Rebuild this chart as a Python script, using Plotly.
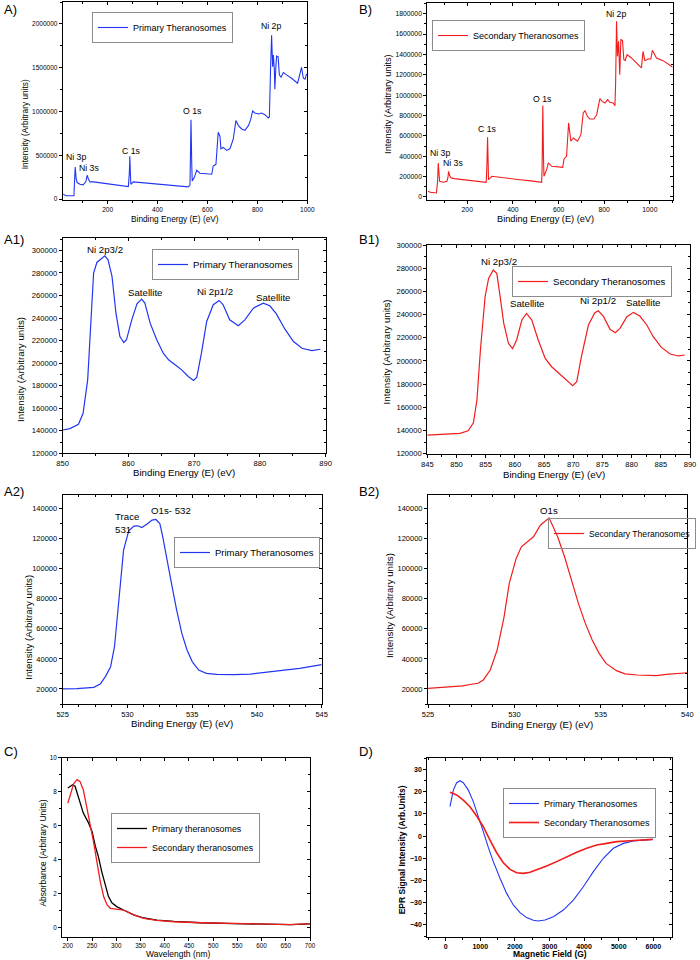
import plotly.graph_objects as go

# ---------------- data ----------------
# A) survey, primary
A_energy = [22, 33, 65, 70, 74, 78, 89, 102, 113, 118, 123, 129, 143, 180, 230, 270, 283, 287, 289, 291,
            293, 303, 350, 420, 480, 523, 530, 534, 537, 539, 547, 557, 570, 617, 623, 634, 643, 650, 654, 663,
            677, 690, 703, 714, 724, 737, 750, 764, 773, 781, 790, 804, 817, 830, 844, 848, 853, 857, 861, 864,
            868, 870, 874, 877, 883, 888, 895, 904, 917, 937, 961, 971, 977, 984, 991, 997]
A_intensity = [57000, 38000, 38000, 367000, 230000, 189000, 170000, 163000, 200000, 272000,
               230000, 197000, 197000, 185000, 165000, 150000, 144000, 300000, 488000, 300000,
               170000, 197000, 185000, 168000, 155000, 140000, 160000, 907000, 400000, 208000,
               246000, 329000, 295000, 284000, 378000, 397000, 764000, 718000, 575000, 590000,
               556000, 575000, 681000, 896000, 839000, 801000, 786000, 839000, 907000, 1006000,
               983000, 972000, 983000, 964000, 926000, 938000, 1512000, 1871000, 1512000, 1645000,
               1475000, 1255000, 1512000, 1633000, 1626000, 1418000, 1391000, 1444000, 1418000, 1380000,
               1323000, 1418000, 1505000, 1380000, 1369000, 1429000]
A_peak_labels = ["Ni 3p", "Ni 3s", "C 1s", "O 1s", "Ni 2p"]
A_peak_x = [75, 125, 297, 541, 853]
A_peak_y = [484000, 352000, 548000, 1002000, 1974000]

# B) survey, secondary
B_energy = [28, 38, 65, 70, 73, 76, 79, 97, 111, 116, 118, 123, 129, 143, 180, 230, 270, 283, 286, 289,
            292, 293, 308, 350, 420, 480, 526, 528, 531, 534, 536, 548, 555, 570, 618, 624, 635, 644, 650, 654,
            665, 683, 698, 708, 716, 726, 737, 755, 767, 774, 781, 791, 803, 815, 825, 839, 847, 850, 854, 858,
            863, 868, 873, 880, 886, 892, 900, 919, 941, 963, 970, 978, 992, 1004, 1011, 1021, 1029, 1058, 1099]
B_intensity = [56000, 46000, 39000, 150000, 334000, 220000, 154000, 144000, 154000, 200000,
               252000, 210000, 187000, 180000, 172000, 160000, 150000, 144000, 300000, 586000,
               300000, 170000, 203000, 190000, 172000, 158000, 144000, 300000, 897000, 400000,
               203000, 268000, 334000, 301000, 291000, 373000, 399000, 727000, 645000, 547000,
               579000, 547000, 612000, 825000, 848000, 792000, 766000, 766000, 808000, 890000,
               966000, 939000, 923000, 956000, 929000, 923000, 897000, 1119000, 1725000, 1381000,
               1528000, 1201000, 1545000, 1538000, 1348000, 1339000, 1398000, 1365000, 1316000, 1267000,
               1430000, 1339000, 1355000, 1355000, 1440000, 1398000, 1365000, 1339000, 1277000]
B_peak_labels = ["Ni 3p", "Ni 3s", "C 1s", "O 1s", "Ni 2p"]
B_peak_x = [79, 137, 289, 531, 852]
B_peak_y = [432000, 334000, 668000, 962000, 1800000]

# A1) Ni 2p, primary
A1_energy = [850, 851.1, 852.4, 853.1, 853.8, 854.3, 854.7, 855.2, 855.9, 856.4, 856.9, 857.5, 858.1, 858.7,
             859.3, 859.7, 860.5, 861.3, 862.0, 862.5, 863.3, 864.3, 865.3, 866.1, 867.1, 868.1, 869.1, 869.9,
             870.4, 871.1, 871.9, 872.9, 873.8, 874.4, 875.4, 876.7, 877.7, 879.0, 880.5, 881.5, 882.5, 883.8,
             885.1, 886.4, 887.9, 889.2]
A1_intensity = [140700, 141900, 145800, 155500, 185100, 241400, 279900, 289300, 293200, 295200, 291700,
                276900, 244300, 223600, 218300, 220700, 238400, 252600, 256800, 253200, 235500, 220700,
                208800, 202900, 198500, 194000, 188100, 184600, 187500, 208800, 237000, 251800, 255600,
                251800, 238400, 233100, 238400, 248800, 253200, 250900, 243700, 230100, 219100, 213200,
                211100, 212300]
A1_peak_labels = ["Ni 2p3/2", "Satellite", "Ni 2p1/2", "Satellite"]
A1_peak_x = [856.5, 862.5, 873.1, 882.0]
A1_peak_y = [301000, 262700, 263600, 258500]

# B1) Ni 2p, secondary
B1_energy = [845, 847.7, 850.6, 852.0, 852.9, 853.5, 854.1, 854.9, 855.5, 856.3, 856.9, 857.4, 858.1, 858.9,
             859.6, 860.3, 861.2, 862.0, 862.9, 864.0, 865.2, 866.3, 867.4, 868.9, 869.9, 870.6, 871.4, 872.6,
             873.7, 874.3, 875.2, 876.3, 877.2, 878.0, 879.2, 880.3, 881.4, 882.6, 883.7, 885.1, 886.6, 888.0,
             889.1]
B1_intensity = [136100, 137000, 137500, 139800, 146700, 166300, 209400, 255400, 271200, 278400, 275500,
                258300, 232400, 215200, 210600, 218100, 235300, 241000, 235300, 218100, 202200, 195000,
                189900, 183500, 178600, 182100, 203700, 231000, 241600, 243300, 238200, 227300, 224400,
                228100, 238200, 241900, 238700, 231000, 220900, 211700, 206000, 204300, 205100]
B1_peak_labels = ["Ni 2p3/2", "Satellite", "Ni 2p1/2", "Satellite"]
B1_peak_x = [857.2, 862.1, 874.3, 882.0]
B1_peak_y = [285600, 249700, 252000, 250800]

# A2) O 1s, primary
A2_energy = [525, 526.1, 527.4, 527.9, 528.3, 528.7, 529.0, 529.2, 529.5, 529.7, 530.1, 530.5, 530.8, 531.1,
             531.5, 531.9, 532.2, 532.5, 532.7, 533.0, 533.4, 533.8, 534.2, 534.6, 535.0, 535.5, 536.1, 536.9,
             538.2, 539.5, 540.8, 542.0, 543.3, 545]
A2_intensity = [20000, 20200, 21100, 23300, 28200, 34800, 48100, 65800, 90200, 112300, 125200, 128300,
                128500, 127400, 129600, 132300, 132700, 130000, 122300, 107900, 90200, 72500, 57000, 45900,
                38200, 32600, 30400, 29700, 29500, 29900, 31100, 32200, 33700, 36200]
A2_peak_labels = ["Trace<br>531", "O1s- 532"]
A2_peak_x = [528.9, 533.4]
A2_peak_y = [130300, 138900]

# B2) O 1s, secondary
B2_energy = [525, 526.3, 527.0, 527.6, 527.9, 528.2, 528.6, 529.0, 529.4, 529.7, 530.1, 530.4, 530.7, 531.1,
             531.5, 531.8, 532.0, 532.2, 532.5, 532.9, 533.3, 533.7, 534.1, 534.5, 534.9, 535.3, 535.9, 536.4,
             537.1, 537.8, 538.2, 538.8, 540]
B2_intensity = [20400, 21300, 22000, 23300, 23800, 26000, 32600, 45900, 68000, 90200, 106800, 114500,
                117400, 121200, 128900, 131800, 133800, 128900, 121200, 107900, 92400, 76900, 63600, 52500,
                43700, 37000, 32200, 30000, 29300, 29300, 28900, 29700, 30800]
B2_peak_labels = ["O1s"]
B2_peak_x = [532.0]
B2_peak_y = [138900]

# C) UV-vis absorbance
C_wavelength_primary = [200, 205, 210, 215, 222, 232, 243, 250, 257, 263, 270, 277, 284, 291, 301, 315, 336,
                        357, 384, 419, 474, 543, 612, 660, 700]
C_absorbance_primary = [8.22, 8.32, 8.41, 8.32, 7.63, 6.74, 6.15, 5.66, 4.78, 4.19, 3.30, 2.52, 1.83, 1.47,
                        1.24, 1.04, 0.75, 0.57, 0.45, 0.37, 0.29, 0.24, 0.20, 0.18, 0.22]
C_wavelength_secondary = [200, 205, 212, 219, 225, 232, 239, 246, 253, 260, 267, 274, 281, 288, 298, 315, 336,
                          357, 384, 419, 474, 543, 612, 660, 700]
C_absorbance_secondary = [7.33, 7.82, 8.47, 8.71, 8.61, 8.12, 7.14, 6.15, 5.07, 3.89, 2.71, 1.83, 1.34, 1.14,
                          1.10, 1.04, 0.75, 0.55, 0.43, 0.35, 0.29, 0.24, 0.22, 0.18, 0.24]

# D) EPR
D_field_primary = [125, 222, 318, 414, 510, 655, 799, 944, 1088, 1233, 1377, 1570, 1762, 1955, 2148, 2340,
                   2533, 2677, 2870, 3111, 3400, 3689, 3978, 4267, 4555, 4844, 5133, 5422, 5711, 5981]
D_signal_primary = [13.2, 20.7, 24.0, 24.9, 24.0, 20.7, 15.5, 9.0, 2.0, -5.1, -11.5, -19.0, -25.8, -31.0,
                    -34.5, -36.7, -37.9, -38.2, -37.8, -36.3, -33.3, -28.8, -22.8, -16.0, -10.0, -5.5, -3.3,
                    -2.2, -1.8, -1.5]
D_field_secondary = [125, 318, 510, 703, 896, 1088, 1281, 1474, 1666, 1859, 2051, 2244, 2437, 2629, 2918,
                     3207, 3496, 3785, 4074, 4363, 4652, 4941, 5326, 5711, 5981]
D_signal_secondary = [19.7, 18.5, 16.2, 13.2, 9.0, 4.2, -1.8, -7.5, -12.0, -15.0, -16.5, -16.8, -16.3, -15.3,
                      -13.5, -11.5, -9.3, -7.3, -5.5, -4.0, -3.3, -2.5, -2.1, -1.6, -1.5]

# ---------------- styling / layout ----------------
W, H = 700, 960
FONT = "Liberation Sans, Arial, sans-serif"
BLUE = "#2236f2"
RED = "#f21c1c"
BLACK = "#000000"


def xdom(l, r):
    return [l / W, r / W]


def ydom(t, b):
    return [1 - b / H, 1 - t / H]


XE = "Binding Energy (E) (eV)"
YI = "Intensity (Arbitrary units)"

panels = [
    dict(label="A)", lab_xy=(2, 10),
         series=[("Primary Theranosomes", A_energy, A_intensity, BLUE, 1.1)],
         dom=((62.7, 307.3), (2, 200)), xr=[20, 1000], xd=200, xm=100,
         yr=[-10000, 2250000], yd=500000, ym=250000, yfmt="d",
         xt=XE, xt_pos=(175, 219.3), yt=YI, yt_pos=(25, 124.2), tick=6.5, title=8.3, bold=False,
         leg=(92, 12), legfont=9,
         notes=(A_peak_labels, A_peak_x, A_peak_y), notefont=8.7),
    dict(label="B)", lab_xy=(357, 9),
         series=[("Secondary Theranosomes", B_energy, B_intensity, RED, 1.1)],
         dom=((427.3, 672.7), (3, 200)), xr=[25, 1100], xd=200, xm=100,
         yr=[-30000, 1905000], yd=200000, ym=100000, yfmt="d",
         xt=XE, xt_pos=(545.8, 219.3), yt=YI, yt_pos=(387.7, 104.2), tick=6.8, title=9.2, bold=False,
         leg=(432, 20), legfont=9,
         notes=(B_peak_labels, B_peak_x, B_peak_y), notefont=8.7),
    dict(label="A1)", lab_xy=(2, 239),
         series=[("Primary Theranosomes", A1_energy, A1_intensity, BLUE, 1.2)],
         dom=((62.7, 325.7), (238, 453.3)), xr=[850, 890], xd=10, xm=5,
         yr=[120000, 311000], yd=20000, ym=10000, yfmt="d",
         xt=XE, xt_pos=(184.3, 472.7), yt=YI, yt_pos=(20.7, 369.2), tick=7.6, title=9.7, bold=False,
         leg=(152, 249), legfont=9.6,
         notes=(A1_peak_labels, A1_peak_x, A1_peak_y), notefont=9.7),
    dict(label="B1)", lab_xy=(357, 239),
         series=[("Secondary Theranosomes", B1_energy, B1_intensity, RED, 1.2)],
         dom=((427.3, 690), (245, 453.7)), xr=[845, 890], xd=5, xm=2.5,
         yr=[120000, 300000], yd=20000, ym=10000, yfmt="d",
         xt=XE, xt_pos=(554.2, 474.5), yt=YI, yt_pos=(386.7, 351.7), tick=7.6, title=9.7, bold=False,
         leg=(512, 266), legfont=9.6,
         notes=(B1_peak_labels, B1_peak_x, B1_peak_y), notefont=9.7),
    dict(label="A2)", lab_xy=(2, 491),
         series=[("Primary Theranosomes", A2_energy, A2_intensity, BLUE, 1.2)],
         dom=((62.7, 321.7), (495, 704)), xr=[525, 545], xd=5, xm=1.25,
         yr=[10000, 149000], yd=20000, ym=10000, yfmt="d",
         xt=XE, xt_pos=(182.2, 723), yt=YI, yt_pos=(28.3, 627.5), tick=7.5, title=9.7, bold=False,
         leg=(174, 537), legfont=9.5,
         notes=(A2_peak_labels, A2_peak_x, A2_peak_y), notefont=9.7),
    dict(label="B2)", lab_xy=(357, 491),
         series=[("Secondary Theranosomes", B2_energy, B2_intensity, RED, 1.2)],
         dom=((428, 687.3), (495, 704)), xr=[525, 540], xd=5, xm=1.25,
         yr=[10000, 149000], yd=20000, ym=10000, yfmt="d",
         xt=XE, xt_pos=(542.2, 724.5), yt=YI, yt_pos=(389.3, 605.8), tick=7.5, title=9.7, bold=False,
         leg=(548, 518), legfont=8.6,
         notes=(B2_peak_labels, B2_peak_x, B2_peak_y), notefont=9.7),
    dict(label="C)", lab_xy=(2, 751),
         series=[("Primary theranosomes", C_wavelength_primary, C_absorbance_primary, BLACK, 1.3),
                 ("Secondary theranosomes", C_wavelength_secondary, C_absorbance_secondary, RED, 1.3)],
         dom=((62, 310), (757.7, 936.7)), xr=[188, 700], xd=50, xm=None,
         yr=[-0.53, 10], yd=2, ym=1, yfmt=None,
         xt="Wavelength (nm)", xt_pos=(178.8, 953.5), yt="Absorbance (Arbitrary Units)", yt_pos=(43.3, 853.3),
         tick=6.3, title=8.5, bold=False,
         leg=(111, 813), legfont=8.9, notes=None, notefont=9),
    dict(label="D)", lab_xy=(357, 751),
         series=[("Primary Theranosomes", D_field_primary, D_signal_primary, BLUE, 1.1),
                 ("Secondary Theranosomes", D_field_secondary, D_signal_secondary, RED, 1.6)],
         dom=((427.3, 671.7), (758.3, 936.7)), xr=[-530, 6530], xd=1000, xm=500,
         yr=[-45.3, 35], yd=10, ym=5, yfmt=None,
         xt="Magnetic Field (G)", xt_pos=(549.7, 953.8), yt="EPR Signal Intensity (Arb.Units)", yt_pos=(402.3, 850),
         tick=7.0, title=8.5, bold=True,
         leg=(503, 788), legfont=9, notes=None, notefont=9),
]

fig = go.Figure()
layout = dict(template="none", width=W, height=H, margin=dict(l=0, r=0, t=0, b=0, autoexpand=False),
              paper_bgcolor="white", plot_bgcolor="white",
              font=dict(family=FONT, color="black"), annotations=[])

for i, p in enumerate(panels, start=1):
    sfx = "" if i == 1 else str(i)
    osfx = str(i + 8)
    xa, ya = "x" + sfx, "y" + sfx
    legkey = "legend" + sfx
    wt = "bold" if p["bold"] else "normal"

    for name, xs, ys, col, lw in p["series"]:
        fig.add_trace(go.Scatter(x=xs, y=ys, mode="lines", name=name,
                                 line=dict(color=col, width=lw),
                                 xaxis=xa, yaxis=ya, legend=legkey))
    # invisible traces so inside mirror-tick axes (top/right) are drawn
    _, xs0, ys0, _, _ = p["series"][0]
    fig.add_trace(go.Scatter(x=xs0, y=ys0, mode="lines", line=dict(width=0), opacity=0,
                             showlegend=False, hoverinfo="skip", xaxis="x" + osfx, yaxis=ya))
    fig.add_trace(go.Scatter(x=xs0, y=ys0, mode="lines", line=dict(width=0), opacity=0,
                             showlegend=False, hoverinfo="skip", xaxis=xa, yaxis="y" + osfx))

    (xl, xr_), (yt_, yb_) = p["dom"]
    tickfont = dict(family=FONT, size=p["tick"], color="black", weight=wt)
    titlefont = dict(family=FONT, size=p["title"], color="black", weight=wt)

    xminor = dict(ticks="outside", ticklen=2, tickcolor="black", dtick=p["xm"], tick0=0) if p["xm"] else None
    yminor = dict(ticks="outside", ticklen=2, tickcolor="black", dtick=p["ym"], tick0=0) if p["ym"] else None

    common = dict(showline=True, linecolor="black", linewidth=1, mirror=True,
                  ticks="outside", ticklen=3, tickwidth=1, tickcolor="black",
                  showgrid=False, zeroline=False, tickfont=tickfont, automargin=False, ticklabelstandoff=0)
    xaxis = dict(domain=xdom(xl, xr_), anchor=ya, range=p["xr"], dtick=p["xd"], tick0=0, **common)
    if xminor:
        xaxis["minor"] = xminor
    yaxis = dict(domain=ydom(yt_, yb_), anchor=xa, range=p["yr"], dtick=p["yd"], tick0=0, **common)
    if yminor:
        yaxis["minor"] = yminor
    if p["yfmt"]:
        yaxis["tickformat"] = p["yfmt"]
    layout["xaxis" + sfx] = xaxis
    layout["yaxis" + sfx] = yaxis

    # overlay axes: inside ticks on top and right
    ocommon = dict(showline=False, ticks="inside", ticklen=3, tickwidth=1, tickcolor="black",
                   showticklabels=False, showgrid=False, zeroline=False, automargin=False)
    ox = dict(overlaying=xa, side="top", anchor=ya, range=p["xr"], dtick=p["xd"], tick0=0, **ocommon)
    if xminor:
        ox["minor"] = dict(ticks="inside", ticklen=2, tickcolor="black", dtick=p["xm"], tick0=0)
    oy = dict(overlaying=ya, side="right", anchor=xa, range=p["yr"], dtick=p["yd"], tick0=0, **ocommon)
    if yminor:
        oy["minor"] = dict(ticks="inside", ticklen=2, tickcolor="black", dtick=p["ym"], tick0=0)
    layout["xaxis" + osfx] = ox
    layout["yaxis" + osfx] = oy

    lx, ly = p["leg"]
    layout[legkey] = dict(x=lx / W, y=1 - ly / H, xanchor="left", yanchor="top",
                          bordercolor="#8c8c8c", borderwidth=1, bgcolor="rgba(255,255,255,0)",
                          font=dict(family=FONT, size=p["legfont"], color="black"),
                          tracegroupgap=0, itemwidth=30)

    if p["notes"]:
        labs, nx, ny = p["notes"]
        for t, x, y in zip(labs, nx, ny):
            layout["annotations"].append(dict(
                x=x, y=y, xref=xa, yref=ya, text=t, showarrow=False,
                xanchor="left" if "<br>" in t else "center", yanchor="middle", align="left",
                font=dict(family=FONT, size=p["notefont"], color="black")))

    # axis titles
    tx, ty = p["xt_pos"]
    layout["annotations"].append(dict(
        x=tx / W, y=1 - ty / H, xref="paper", yref="paper", text=p["xt"], showarrow=False,
        xanchor="center", yanchor="middle", font=titlefont))
    tx, ty = p["yt_pos"]
    layout["annotations"].append(dict(
        x=tx / W, y=1 - ty / H, xref="paper", yref="paper", text=p["yt"], showarrow=False,
        textangle=-90, xanchor="center", yanchor="middle", font=titlefont))

    lab_x, lab_y = p["lab_xy"]
    layout["annotations"].append(dict(
        x=lab_x / W, y=1 - lab_y / H, xref="paper", yref="paper", text=p["label"], showarrow=False,
        xanchor="left", yanchor="middle", font=dict(family=FONT, size=13, color="black")))

fig.update_layout(**layout)
fig.write_html("out.html", config={"displayModeBar": False},
               post_script="document.body.style.margin='0px';document.body.style.padding='0px';")
